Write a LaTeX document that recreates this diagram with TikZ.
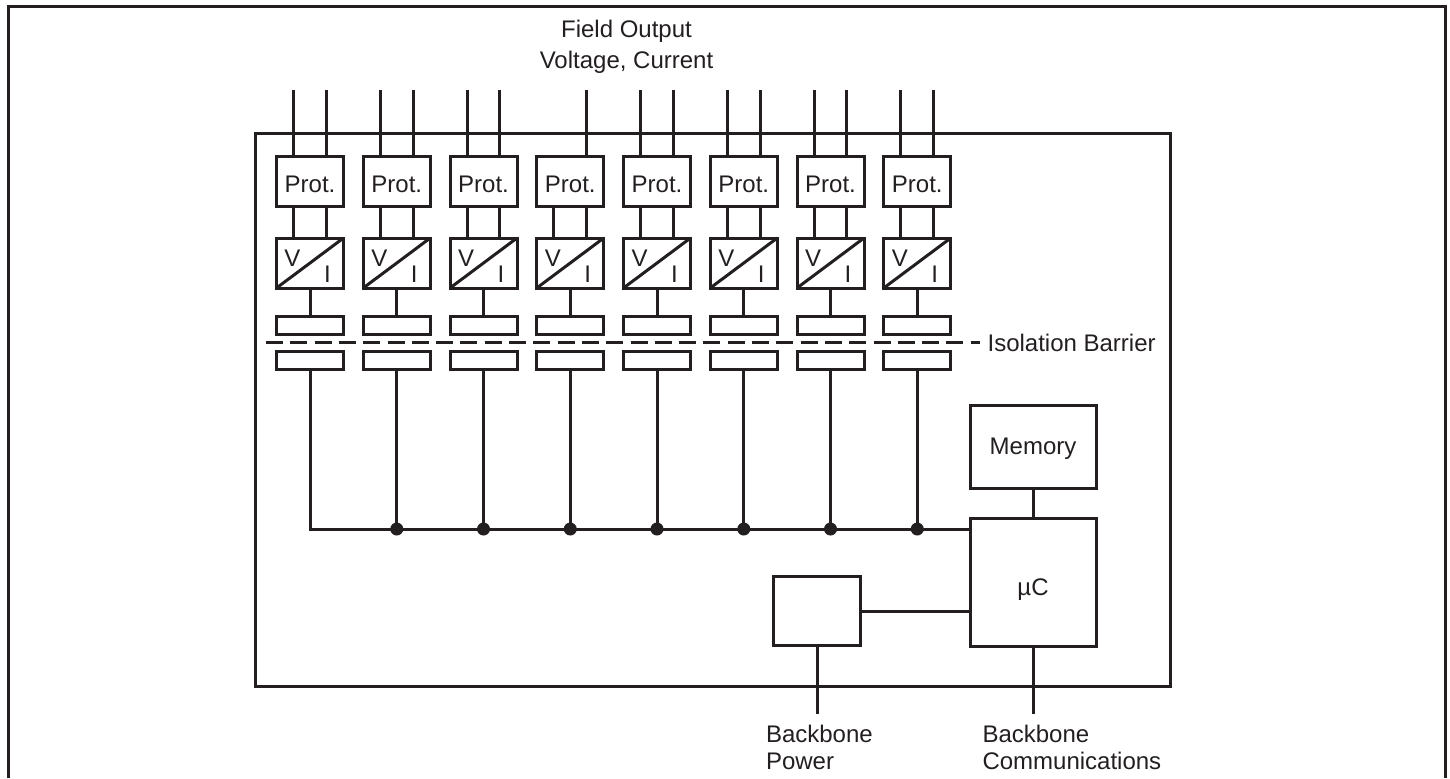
\documentclass[tikz,border=0pt]{standalone}
\usepackage{fontspec}
\setmainfont{Liberation Sans}
\usetikzlibrary{positioning}

\definecolor{ink}{HTML}{231F20}

\begin{document}
\begin{tikzpicture}[
x=0.5pt, y=-0.5pt,
every node/.style={font=\fontsize{12}{13.5}\selectfont, align=center, text=ink, outer sep=0pt},
block/.style={rectangle, draw=ink, line width=1.5pt, inner sep=0pt},
protbox/.style={block, minimum width=33.5pt, minimum height=25pt, text height=11.5pt, text depth=0pt},
convbox/.style={block, minimum width=33.5pt, minimum height=25pt},
capbox/.style={block, minimum width=33.5pt, minimum height=9pt},
dot/.style={circle, fill=ink, inner sep=0pt, minimum size=6.5pt},
caption/.style={inner sep=0pt},
wire/.style={draw=ink, line width=1.5pt},
barrier/.style={wire, dash pattern=on 8.5pt off 3.65pt}
]

\useasboundingbox (0,0) rectangle (1450,778);
\draw[wire] (8,778) -- (8,6.5) -- (1445.5,6.5) -- (1445.5,778);

\node[block, minimum width=457.25pt, minimum height=276.6pt] (module) at (712.75,410) {};
\coordinate (fieldtop) at (0,90);
\coordinate (barrierL) at (266,342);
\coordinate (barrierR) at (980,342);
\coordinate (busend) at (970,529);

\node[block, minimum width=63pt, minimum height=41.5pt, text height=9pt, text depth=0.7pt] (memory) at (1033,446.5) {Memory};
\node[block, minimum width=63pt, minimum height=64pt, text height=13pt, text depth=0pt, below=15pt of memory] (mcu) {µC};
\node[block, minimum width=43.5pt, minimum height=34.5pt] (power) at (816.5,611.3) {};
\coordinate (powerend) at (817,714);
\coordinate (commsend) at (1033,714);

\foreach \i/\x in {1/310, 2/396.75, 3/483.5, 4/570.25, 5/657, 6/743.75, 7/830.5, 8/917.25} {
  \node[protbox] (prot\i) at (\x,181) {Prot.};
  \node[convbox, below=16pt of prot\i] (conv\i) {};
  \node[capbox, below=14pt of conv\i] (capup\i) {};
  \node[capbox, below=8.5pt of capup\i] (caplow\i) {};
  \ifnum\i=1
    \coordinate (dot\i) at (caplow\i.south |- busend);
  \else
    \node[dot] (dot\i) at (caplow\i.south |- busend) {};
  \fi
  \node[caption, anchor=base] (volt\i) at ([xshift=8pt,yshift=11pt]conv\i.south west) {V};
  \node[caption, anchor=base] (amp\i) at ([xshift=-8pt,yshift=3pt]conv\i.south east) {I};
  \draw[wire] (conv\i.south west) -- (conv\i.north east);
  \ifnum\i=4\else
    \draw[wire] ([xshift=-8.15pt]prot\i.north |- fieldtop) -- ([xshift=-8.15pt]prot\i.north);
  \fi
  \draw[wire] ([xshift=8.15pt]prot\i.north |- fieldtop) -- ([xshift=8.15pt]prot\i.north);
  \draw[wire] ([xshift=-8.15pt]prot\i.south) -- ([xshift=-8.15pt]conv\i.north);
  \draw[wire] ([xshift=8.15pt]prot\i.south) -- ([xshift=8.15pt]conv\i.north);
  \draw[wire] (conv\i) -- (capup\i);
  \draw[wire] (caplow\i) -- (dot\i);
}

\draw[barrier] (barrierL) -- (barrierR);
\draw[wire, line cap=rect] (dot1) -- (busend);
\draw[wire] (memory) -- (mcu);
\draw[wire] (power.east) -- (power.east -| mcu.west);
\draw[wire] (power.south -| powerend) -- (powerend);
\draw[wire] (mcu) -- (commsend);

\node[caption, right=3.8pt of barrierR, yshift=-0.5pt] (barrierlabel) {Isolation Barrier};
\node[caption, font=\fontsize{12}{15.5}\selectfont] (fieldlabel) at (626.5,46.3) {Field Output\\ Voltage, Current};
\node[caption, align=left, anchor=north west] (powerlabel) at (766,725.5) {Backbone\\ Power};
\node[caption, align=left, anchor=north west] (commslabel) at (982.5,725.5) {Backbone\\ Communications};

\end{tikzpicture}
\end{document}
